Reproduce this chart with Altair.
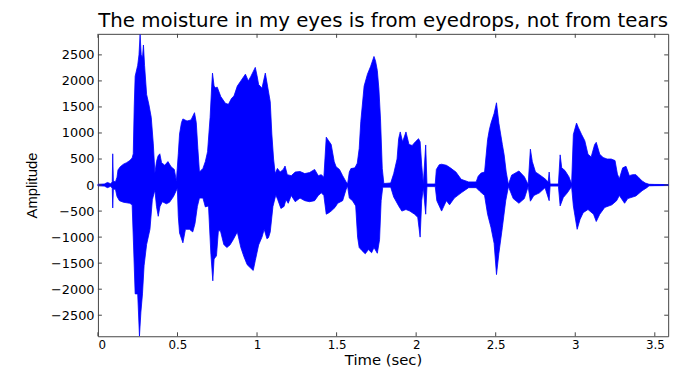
import altair as alt
import pandas as pd

# Upper envelope of the waveform (time in sec, amplitude)
up_t = [0.000, 0.040, 0.060, 0.080, 0.090, 0.093, 0.097, 0.110, 0.120, 0.126,
        0.140, 0.160, 0.180, 0.200, 0.215, 0.222, 0.228, 0.234, 0.250, 0.258,
        0.265, 0.272, 0.280, 0.286, 0.293, 0.306, 0.320, 0.335, 0.348, 0.358,
        0.368, 0.378, 0.389, 0.400, 0.420, 0.440, 0.460, 0.480, 0.493, 0.505,
        0.513, 0.525, 0.534, 0.560, 0.585, 0.607, 0.618, 0.628, 0.638, 0.660,
        0.675, 0.689, 0.705, 0.715, 0.720, 0.730, 0.739, 0.750, 0.772, 0.801,
        0.820, 0.840, 0.855, 0.876, 0.898, 0.927, 0.945, 0.960, 0.989, 1.000,
        1.010, 1.031, 1.052, 1.066, 1.083, 1.093, 1.104, 1.114, 1.128, 1.145,
        1.165, 1.176, 1.190, 1.215, 1.240, 1.270, 1.300, 1.330, 1.362, 1.385,
        1.404, 1.420, 1.435, 1.450, 1.466, 1.485, 1.497, 1.518, 1.538, 1.560,
        1.569, 1.580, 1.590, 1.615, 1.630, 1.642, 1.652, 1.673, 1.694, 1.714,
        1.735, 1.745, 1.756, 1.766, 1.776, 1.787, 1.797, 1.840, 1.859, 1.880,
        1.890, 1.900, 1.915, 1.936, 1.955, 1.975, 1.995, 2.015, 2.025, 2.035,
        2.045, 2.060, 2.068, 2.120, 2.127, 2.145, 2.160, 2.190, 2.215, 2.250,
        2.283, 2.330, 2.377, 2.390, 2.408, 2.430, 2.449, 2.460, 2.470, 2.490,
        2.505, 2.520, 2.542, 2.553, 2.566, 2.580, 2.600, 2.646, 2.680, 2.704,
        2.718, 2.730, 2.750, 2.775, 2.810, 2.830, 2.836, 2.842, 2.894, 2.905,
        2.915, 2.935, 2.960, 2.977, 2.988, 3.008, 3.020, 3.040, 3.060, 3.080,
        3.100, 3.122, 3.132, 3.154, 3.175, 3.200, 3.226, 3.250, 3.265, 3.277,
        3.298, 3.319, 3.340, 3.360, 3.381, 3.400, 3.420, 3.440, 3.464, 3.500,
        3.584]
up_a = [15, 20, 50, 25, 60, 600, 80, 60, 150, 290,
        350, 400, 430, 470, 520, 600, 1500, 2090, 2300, 2500,
        2890, 2500, 2450, 2690, 2300, 1740, 1550, 1300, 790, 230,
        450, 560, 600, 430, 380, 450, 350, 300, 80, 600,
        980, 1200, 1270, 1230, 1250, 1390, 1200, 700, 250, 320,
        450, 640, 1300, 1900, 2150, 1900, 1870, 1880, 1700, 1570,
        1550, 1666, 1710, 1900, 2000, 2130, 2000, 2080, 2260, 2100,
        1930, 1860, 2150, 1900, 1600, 980, 500, 220, 320, 250,
        300, 365, 200, 180, 250, 260, 220, 240, 300, 180,
        200, 150, 920, 850, 780, 450, 350, 300, 180, 60,
        20, 250, 316, 330, 420, 700, 1215, 1900, 2130, 2280,
        2470, 2380, 2200, 1840, 1270, 320, 30, 40, 220, 500,
        890, 1020, 830, 1020, 780, 760, 830, 890, 830, 380,
        20, 770, 20, 20, 300, 390, 400, 380, 330, 250,
        110, 60, 60, 170, 230, 250, 870, 1060, 1185, 1375,
        1580, 1185, 775, 580, 250, 10, 190, 270, 160, 10,
        690, 450, 250, 200, 120, 60, 250, 20, 20, 580,
        330, 280, 160, 20, 970, 1190, 1100, 970, 850, 590,
        540, 780, 820, 590, 530, 500, 500, 470, 210, 120,
        330, 360, 180, 200, 200, 140, 80, 40, 15, 12,
        10]

# Lower envelope of the waveform
lo_t = [0.000, 0.040, 0.060, 0.080, 0.090, 0.093, 0.097, 0.110, 0.120, 0.135,
        0.160, 0.200, 0.215, 0.224, 0.234, 0.250, 0.261, 0.270, 0.280, 0.290,
        0.306, 0.327, 0.342, 0.358, 0.368, 0.379, 0.390, 0.405, 0.430, 0.450,
        0.475, 0.499, 0.505, 0.513, 0.534, 0.550, 0.575, 0.596, 0.610, 0.625,
        0.638, 0.660, 0.675, 0.695, 0.710, 0.722, 0.730, 0.745, 0.757, 0.770,
        0.791, 0.810, 0.830, 0.850, 0.876, 0.898, 0.917, 0.938, 0.958, 0.976,
        0.989, 1.010, 1.031, 1.045, 1.062, 1.072, 1.083, 1.100, 1.118, 1.130,
        1.150, 1.170, 1.182, 1.196, 1.215, 1.240, 1.270, 1.300, 1.330, 1.362,
        1.385, 1.404, 1.420, 1.435, 1.450, 1.466, 1.490, 1.507, 1.538, 1.560,
        1.569, 1.580, 1.600, 1.620, 1.632, 1.642, 1.660, 1.680, 1.700, 1.720,
        1.735, 1.756, 1.770, 1.780, 1.790, 1.840, 1.859, 1.890, 1.910, 1.936,
        1.960, 1.990, 2.010, 2.025, 2.035, 2.045, 2.060, 2.068, 2.120, 2.130,
        2.160, 2.190, 2.210, 2.240, 2.283, 2.330, 2.377, 2.400, 2.430, 2.449,
        2.470, 2.490, 2.505, 2.520, 2.542, 2.563, 2.580, 2.610, 2.646, 2.680,
        2.704, 2.718, 2.740, 2.775, 2.810, 2.836, 2.842, 2.894, 2.905, 2.925,
        2.950, 2.977, 2.988, 2.998, 3.012, 3.030, 3.050, 3.080, 3.115, 3.132,
        3.154, 3.185, 3.230, 3.260, 3.277, 3.310, 3.330, 3.381, 3.420, 3.450,
        3.464, 3.500, 3.584]
lo_a = [-15, -20, -50, -25, -60, -440, -80, -80, -220, -300,
        -330, -350, -380, -1170, -2090, -2090, -2900, -2440, -2090, -1550,
        -1140, -850, -280, -95, -410, -600, -410, -320, -360, -330,
        -220, -60, -600, -920, -1110, -850, -850, -900, -740, -410,
        -250, -250, -420, -400, -1330, -1840, -1420, -1360, -880, -880,
        -1140, -1200, -1150, -1050, -900, -1200, -1370, -1530, -1590, -1640,
        -1450, -1150, -1000, -850, -1030, -1010, -900, -410, -190, -280,
        -450, -410, -280, -350, -200, -320, -250, -300, -320, -300,
        -200, -150, -200, -560, -535, -500, -430, -350, -300, -80,
        -20, -250, -300, -400, -1000, -1200, -1260, -1320, -1240, -1300,
        -1200, -1310, -1050, -300, -40, -40, -230, -400, -500, -470,
        -500, -560, -620, -1000, -300, -50, -560, -30, -30, -300,
        -500, -300, -380, -250, -150, -50, -50, -120, -200, -560,
        -810, -1120, -1720, -1310, -810, -300, -30, -260, -350, -260,
        -30, -310, -200, -150, -50, -300, -20, -20, -400, -240,
        -150, -30, -400, -590, -850, -660, -530, -470, -560, -700,
        -560, -430, -380, -300, -200, -350, -260, -210, -110, -50,
        -15, -12, -10]

x_ticks = [0, 0.5, 1, 1.5, 2, 2.5, 3, 3.5]
y_ticks = [-2500, -2000, -1500, -1000, -500, 0, 500, 1000, 1500, 2000, 2500]
x_domain = [0, 3.584]
y_domain = [-2904, 2904]
chart_title = "The moisture in my eyes is from eyedrops, not from tears"

W, H = 577, 306
blue = "#0000ff"
frame = "#444444"

xs = alt.Scale(domain=x_domain, nice=False, zero=False)
ys = alt.Scale(domain=y_domain, nice=False, zero=False)

upper = pd.DataFrame({"t": up_t, "a": up_a})
lower = pd.DataFrame({"t": lo_t, "a": lo_a})
xt = pd.DataFrame({"t": x_ticks})
yt = pd.DataFrame({"a": y_ticks})

x_axis = alt.Axis(values=x_ticks, format="~g", ticks=False, domain=False, grid=False,
                  labelFont="DejaVu Sans", labelFontSize=12, labelColor="black",
                  labelPadding=3, title="Time (sec)", titleFont="DejaVu Sans",
                  titleFontSize=15, titleFontWeight="normal", titleColor="black",
                  titleY=29, titleBaseline="alphabetic")
y_axis = alt.Axis(values=y_ticks, format="d", ticks=False, domain=False, grid=False,
                  labelFont="DejaVu Sans", labelFontSize=13, labelColor="black",
                  labelPadding=4, title="Amplitude", titleFont="Liberation Sans",
                  titleFontSize=15, titleFontWeight="normal", titleColor="black",
                  titleX=-62, titleY=H / 2, titleAngle=270, titleAlign="center",
                  titleBaseline="alphabetic")

X = alt.X("t:Q", scale=xs, axis=x_axis)
Y = alt.Y("a:Q", scale=ys, axis=y_axis)

up_c = alt.Chart(upper).mark_area(color=blue, stroke=blue, strokeWidth=0.8).encode(
    x=X, y=Y, y2=alt.datum(0))
lo_c = alt.Chart(lower).mark_area(color=blue, stroke=blue, strokeWidth=0.8).encode(
    x=X, y=Y, y2=alt.datum(0))
bottom_ticks = alt.Chart(xt).mark_rule(color=frame).encode(
    x=X, y=alt.value(H - 4), y2=alt.value(H))
top_ticks = alt.Chart(xt).mark_rule(color=frame).encode(
    x=X, y=alt.value(0), y2=alt.value(4))
left_ticks = alt.Chart(yt).mark_rule(color=frame).encode(
    y=Y, x=alt.value(0), x2=alt.value(4))
right_ticks = alt.Chart(yt).mark_rule(color=frame).encode(
    y=Y, x=alt.value(W - 4), x2=alt.value(W))

chart = alt.layer(up_c, lo_c, bottom_ticks, top_ticks, left_ticks, right_ticks).properties(
    width=W, height=H,
    title=alt.TitleParams(text=chart_title, font="DejaVu Sans", fontSize=20,
                          fontWeight="normal", color="black", anchor="middle", offset=2),
    autosize=alt.AutoSizeParams(type="none"),
    padding={"left": 91, "top": 24, "right": 15, "bottom": 33},
    background="white",
).configure_view(stroke=frame, strokeWidth=1)

chart.save("out.html", embed_options={"renderer": "svg", "actions": False})
